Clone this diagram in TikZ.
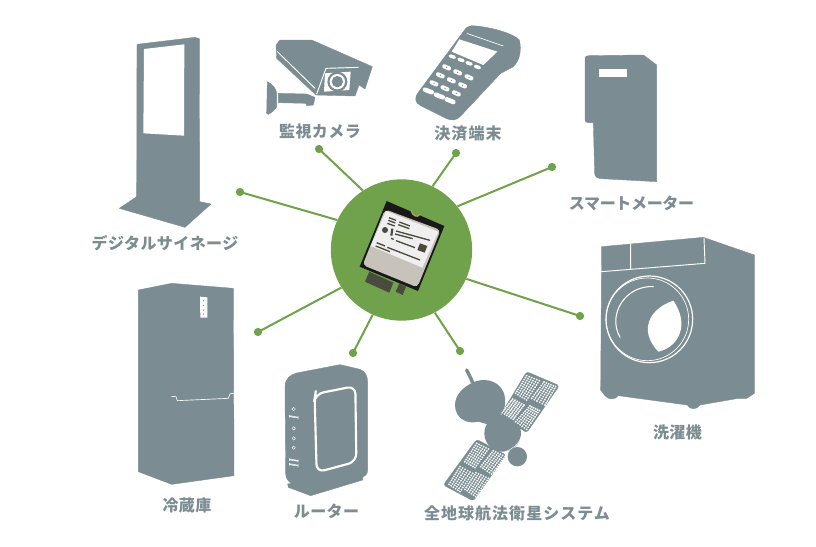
\documentclass[tikz,border=0pt]{standalone}
\usepackage{fontspec}
\newfontfamily\jp[LetterSpace=2.5]{Noto Sans CJK JP}
\newfontfamily\jpk[LetterSpace=6.5]{Noto Sans CJK JP}
\newfontfamily\jps[LetterSpace=-2]{Noto Sans CJK JP}
\definecolor{dev}{HTML}{7B8D92}
\definecolor{grn}{HTML}{6FA24A}
\definecolor{chipgrey}{HTML}{C7C2BA}
\definecolor{chipdark}{HTML}{4A4A3E}
\definecolor{labelwhite}{HTML}{EFEFEF}
\definecolor{gold}{HTML}{C9A24A}
\tikzset{
  z/.style 2 args={shift={(#1*.75pt,-#2*.75pt)},x=.25pt,y=-.25pt},
  devfill/.style={fill=dev,draw=dev,line width=.3pt,line join=round},
  wl/.style={draw=white,line width=.7pt,line cap=round,line join=round},
  lbl/.style={font=\jp\bfseries\fontsize{12}{14}\selectfont,text=dev,inner sep=0pt},
  lblk/.style={font=\jpk\bfseries\fontsize{12}{14}\selectfont,text=dev,inner sep=0pt},
  lbls/.style={font=\jps\bfseries\fontsize{12}{14}\selectfont,text=dev,inner sep=0pt},
  dot/.style={circle,fill=grn,minimum size=6.2pt,inner sep=0pt},
  conn/.style={draw=grn,line width=1.5pt},
  hubnode/.style={circle,fill=grn,minimum size=106pt,inner sep=0pt},
  chipbar/.style={draw=chipdark,line width=1pt},
}
\newcommand{\solarcell}[8]{%
  \foreach \i in {0,...,5}{\foreach \j in {0,...,9}{%
    \pgfmathsetmacro\uu{\i/5}\pgfmathsetmacro\vv{\j/9}%
    \pgfmathsetmacro\lx{#1+(#3-#1)*\uu}\pgfmathsetmacro\ly{#2+(#4-#2)*\uu}%
    \pgfmathsetmacro\rx{#7+(#5-#7)*\uu}\pgfmathsetmacro\ry{#8+(#6-#8)*\uu}%
    \pgfmathsetmacro\px{\lx+(\rx-\lx)*\vv}\pgfmathsetmacro\py{\ly+(\ry-\ly)*\vv}%
    \fill[white] (\px,\py) circle[radius=3.1];%
  }}}
\begin{document}
\begin{tikzpicture}[x=.75pt,y=-.75pt]
\useasboundingbox (0,0) rectangle (816,546);
% connectors and hub
\node[hubnode] (hub) at (401.5,250) {};
\node[dot] (d1) at (319,149) {};
\node[dot] (d2) at (240,192) {};
\node[dot] (d3) at (456,153) {};
\node[dot] (d4) at (552,167) {};
\node[dot] (d5) at (580,316) {};
\node[dot] (d6) at (460,351) {};
\node[dot] (d7) at (353,353) {};
\node[dot] (d8) at (258,332) {};
\draw[conn] (d1.center) -- (hub.123);
\draw[conn] (d2.center) -- (hub.155);
\draw[conn] (d3.center) -- (hub.64);
\draw[conn] (d4.center) -- (hub.38);
\draw[conn] (d5.center) -- (hub.-24);
\draw[conn] (d6.center) -- (hub.-62);
\draw[conn] (d7.center) -- (hub.-114);
\draw[conn] (d8.center) -- (hub.-148);
% chip
\begin{scope}[z={330}{170}]
\fill[chipdark] (118,305) -- (190,338) -- (178,368) -- (105,335) -- cycle;
\fill[chipdark] (208,340) -- (228,350) -- (218,375) -- (197,365) -- cycle;
\fill[black!90] (170,93) -- (343,168) -- (264,363) -- (89,290) -- cycle;
\fill[chipgrey,rounded corners=3pt] (165,118) -- (332,180) -- (262,352) -- (98,285) -- cycle;
\fill[labelwhite] (168,123) -- (325,185) -- (277,293) -- (122,228) -- cycle;
\fill[grn] (238,112) -- (243,122) .. controls (246,136) and (262,146) .. (270,133) -- (278,125) -- cycle;
\draw[draw=gold,line width=.8pt] (243,122) .. controls (246,136) and (262,146) .. (270,133);
\draw[chipbar] (177,143) -- (198,151) (175,151) -- (196,159) (172,160) -- (194,168);
\draw[chipbar] (208,156) -- (240,168) (205,164) -- (238,176);
\fill[chipdark] (165,180) circle[radius=9];
\draw[chipdark,line width=1.6pt] (187,176) -- (184,197);
\draw[chipbar] (198,183) -- (300,211) (195,192) -- (248,206) (183,205) -- (191,208) (198,212) -- (255,233);
\draw[chipbar] (140,218) -- (165,228) (137,228) -- (180,245) (172,232) -- (270,270);
\fill[chipdark] (270,220) -- (292,228) -- (284,248) -- (262,240) -- cycle;
\end{scope}
% signage
\begin{scope}[z={100}{20}]
\draw[devfill] (111,73) -- (285,52) -- (298,56) -- (299,545) -- (333,552) -- (255,622) -- (58,565) -- (110,530) -- cycle;
\fill[white] (132,87) -- (253,73) -- (252,347) -- (130,340) -- cycle;
% camera
\draw[devfill] (528,75) -- (540,60) -- (635,60) -- (817,140) -- (795,207) -- (777,195) -- (765,228) -- (648,225) -- (530,115) -- cycle;
\draw[wl] (532,95) -- (645,205);
\draw[wl] (650,222) -- (678,145) -- (775,142);
\fill[white] (675,160) -- (752,155) -- (748,210) -- (672,215) -- cycle;
\fill[dev] (712,185) circle[radius=30];
\fill[white] (712,185) circle[radius=23];
\fill[dev] (712,185) circle[radius=17];
\draw[devfill] (535,220) -- (620,222) -- (645,232) -- (640,255) -- (620,257) -- (618,250) -- (535,248) -- cycle;
\draw[devfill] (502,185) .. controls (520,195) and (528,205) .. (530,220) -- (530,260) .. controls (525,270) and (515,278) .. (505,283) -- (500,280) -- cycle;
\end{scope}
% terminal and meter
\begin{scope}[z={400}{10}]
\draw[devfill] (215,47) .. controls (270,50) and (340,70) .. (358,90) .. controls (365,120) and (360,150) .. (340,170) -- (312,185) -- (302,190) -- (182,318) .. controls (170,332) and (155,332) .. (140,326) -- (62,287) .. controls (45,278) and (42,265) .. (55,247) -- (190,65) .. controls (198,52) and (205,48) .. (215,47) -- cycle;
\draw[white,line width=.5pt] (200,70) -- (310,108);
\fill[white] (178,88) -- (292,125) -- (250,165) -- (155,125) -- cycle;
\foreach \kx/\ky in {157/140,183/150,207/160,232/171}
  \draw[white,line width=2.6pt,line cap=round] (\kx-6,\ky-2) -- (\kx+6,\ky+2);
\foreach \kx/\ky in {140/172,173/187,207/202,121/196,154/211,188/226,102/220,135/235,169/250}{
  \draw[white,line width=3.2pt,line cap=round] (\kx-7,\ky-3) -- (\kx+7,\ky+3);
  \fill[dev] (\kx,\ky) circle[radius=2];}
\foreach \kx/\ky in {85/243,118/258,150/272}
  \draw[white,line width=3.4pt,line cap=round] (\kx-10,\ky-4) -- (\kx+10,\ky+4);
\draw[devfill] (555,150) .. controls (555,140) and (558,137) .. (568,137) -- (730,135) -- (770,165) -- (770,515) -- (605,506) .. controls (590,505) and (585,500) .. (584,490) -- (580,338) -- (565,338) .. controls (558,338) and (555,335) .. (555,328) -- cycle;
\fill[white] (598,178) rectangle (680,202);
\end{scope}
% fridge and router
\begin{scope}[z={120}{270}]
\draw[devfill] (55,60) -- (155,40) -- (340,55) -- (342,617) -- (155,643) -- (55,605) -- cycle;
\draw[wl,line width=.5pt] (155,379) -- (168,380) -- (172,392) -- (325,385) -- (330,371) -- (342,370);
\fill[white] (240,80) -- (262,82) -- (262,143) -- (241,143) -- cycle;
\foreach \ky in {92,106,120,132} \fill[dev] (251,\ky) circle[radius=2];
\draw[devfill] (495,350) .. controls (496,325) and (510,315) .. (530,309) -- (660,284) -- (720,298) .. controls (738,305) and (743,320) .. (743,340) -- (743,600) .. controls (743,612) and (735,618) .. (728,622) -- (728,630) -- (572,677) -- (505,652) -- (503,642) -- (515,640) .. controls (505,635) and (497,625) .. (497,610) -- cycle;
\draw[draw=white,line width=1.6pt,rounded corners=6pt] (584,385) -- (586,372) -- (706,348) -- (709,575) -- (590,607) -- cycle;
\foreach \ky in {417,475,505,533} \draw[white,line width=.35pt] (521,\ky) circle[radius=5];
\foreach \ky/\kw in {440/13,570/13,584/13} \draw[white,line width=.4pt,rounded corners=1pt] (521-\kw,\ky-3) -- (521+\kw,\ky+1) -- (521+\kw,\ky+4) -- (521-\kw,\ky) -- cycle;
\end{scope}
% satellite
\begin{scope}[z={410}{350}]
\draw[dev,line width=2.6pt,line cap=round] (170,60) -- (192,105);
\fill[dev] (190,97) .. controls (215,85) and (260,85) .. (280,125) .. controls (292,155) and (285,185) .. (262,205) -- (240,225) -- (205,215) .. controls (165,225) and (135,200) .. (135,165) .. controls (135,135) and (160,110) .. (190,97) -- cycle;
\fill[dev] (278,250) circle[radius=55];
\fill[dev] (322,320) circle[radius=29];
\draw[draw=white,line width=.3pt] (332,262) .. controls (325,285) and (305,298) .. (285,305);
\draw[devfill,rounded corners=2pt] (350,65) -- (448,107) -- (350,248) -- (272,195) -- cycle;
\draw[devfill,rounded corners=2pt] (200,268) -- (288,315) -- (190,453) -- (100,405) -- cycle;
\solarcell{350}{77}{388}{92}{350}{150}{317}{130}
\solarcell{402}{96}{437}{110}{405}{165}{365}{145}
\solarcell{308}{147}{342}{165}{310}{208}{277}{188}
\solarcell{360}{168}{388}{182}{350}{238}{317}{215}
\solarcell{200}{280}{235}{297}{195}{353}{164}{335}
\solarcell{250}{302}{285}{320}{245}{372}{212}{350}
\solarcell{150}{350}{188}{370}{150}{425}{117}{403}
\solarcell{198}{368}{235}{385}{197}{440}{165}{418}
\end{scope}
% washer
\begin{scope}[z={590}{230}]
\draw[devfill] (35,50) -- (340,22) -- (493,75) -- (493,490) -- (470,505) -- (445,505) -- (330,525) .. controls (320,540) and (300,540) .. (292,525) -- (85,497) .. controls (75,510) and (55,510) .. (45,497) -- (32,480) -- cycle;
\draw[wl] (35,125) -- (345,100) -- (342,25) (122,40) -- (122,115);
\draw[draw=white,line width=.9pt] (178,268) circle[radius=130];
\draw[draw=white,line width=.5pt] (172,268) circle[radius=124];
\draw[draw=white,line width=.8pt,line cap=round] (190,170) .. controls (110,165) and (50,250) .. (90,322);
\fill[white] (250,212) .. controls (180,235) and (143,300) .. (205,365) .. controls (270,350) and (298,280) .. (250,212) -- cycle;
\end{scope}
% labels
\node[lbl] (l1) at (320,131) {監視カメラ};
\node[lbl] (l2) at (165,243) {デジタルサイネージ};
\node[lblk] (l3) at (468,134) {決済端末};
\node[lbls] (l4) at (631.5,203) {スマートメーター};
\node[lbl] (l5) at (677.5,432) {洗濯機};
\node[lbl] (l6) at (187,505) {冷蔵庫};
\node[lbl] (l7) at (326.5,511) {ルーター};
\node[lblk] (l8) at (517,513) {全地球航法衛星システム};
\end{tikzpicture}
\end{document}
